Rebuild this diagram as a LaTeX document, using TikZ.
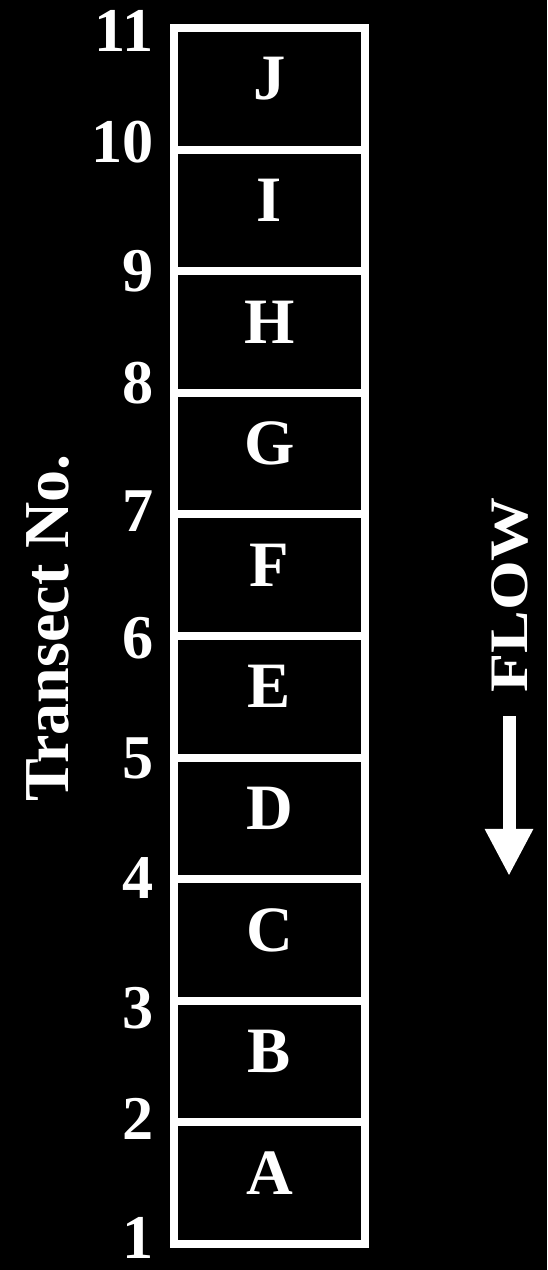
\documentclass[tikz,border=0pt]{standalone}
\usepackage{fontspec}
\setmainfont{Liberation Serif}
\usepackage{tikz}
\usetikzlibrary{arrows.meta,positioning}

\begin{document}
\begin{tikzpicture}[
    x=0.01cm, y=-0.01cm,
    cell/.style={draw=white, line width=0.08cm, minimum width=1.91cm, minimum height=1.216cm,
      inner sep=0pt, text height=0.43cm, text depth=0.21cm, text=white,
      font=\fontsize{18.4}{20}\selectfont\bfseries},
    num/.style={anchor=east, inner sep=0pt, text=white, font=\fontsize{17.7}{20}\selectfont\bfseries},
    axis/.style={rotate=90, inner sep=0pt, text=white, font=\fontsize{18.2}{20}\selectfont\bfseries},
    flowarrow/.style={draw=white, line width=0.13cm, -{Triangle[length=0.47cm, width=0.45cm]}}
  ]
  % Background
  \fill[black] (0,0) rectangle (547,1270);
  \useasboundingbox (0,0) rectangle (547,1270);

  % Reaches A to J, downstream at the bottom
  \foreach \l [count=\i] in {A,B,C,D,E,F,G,H,I,J}
    \node[cell] (\l) at (269.5, {1244 - 121.6*(\i-0.5)}) {\l};

  % Transect numbers
  \foreach \n/\y in {1/1238, 2/1119, 3/1008, 4/878, 5/758, 6/638, 7/511, 8/383, 9/271, 10/142, 11/31}
    \node[num] (t\n) at (154, \y) {\n};

  \node[axis] (title) at (48, 628) {Transect No.};

  % Flow direction
  \node[axis, font=\fontsize{15.4}{18}\selectfont\bfseries] (flow) at (510, 595) {\scalebox{1.18}[1]{FLOW}};
  \coordinate (arrtop) at (509, 716);
  \coordinate (arrtip) at (509, 876);
  \draw[flowarrow] (arrtop) -- (arrtip);
\end{tikzpicture}
\end{document}
